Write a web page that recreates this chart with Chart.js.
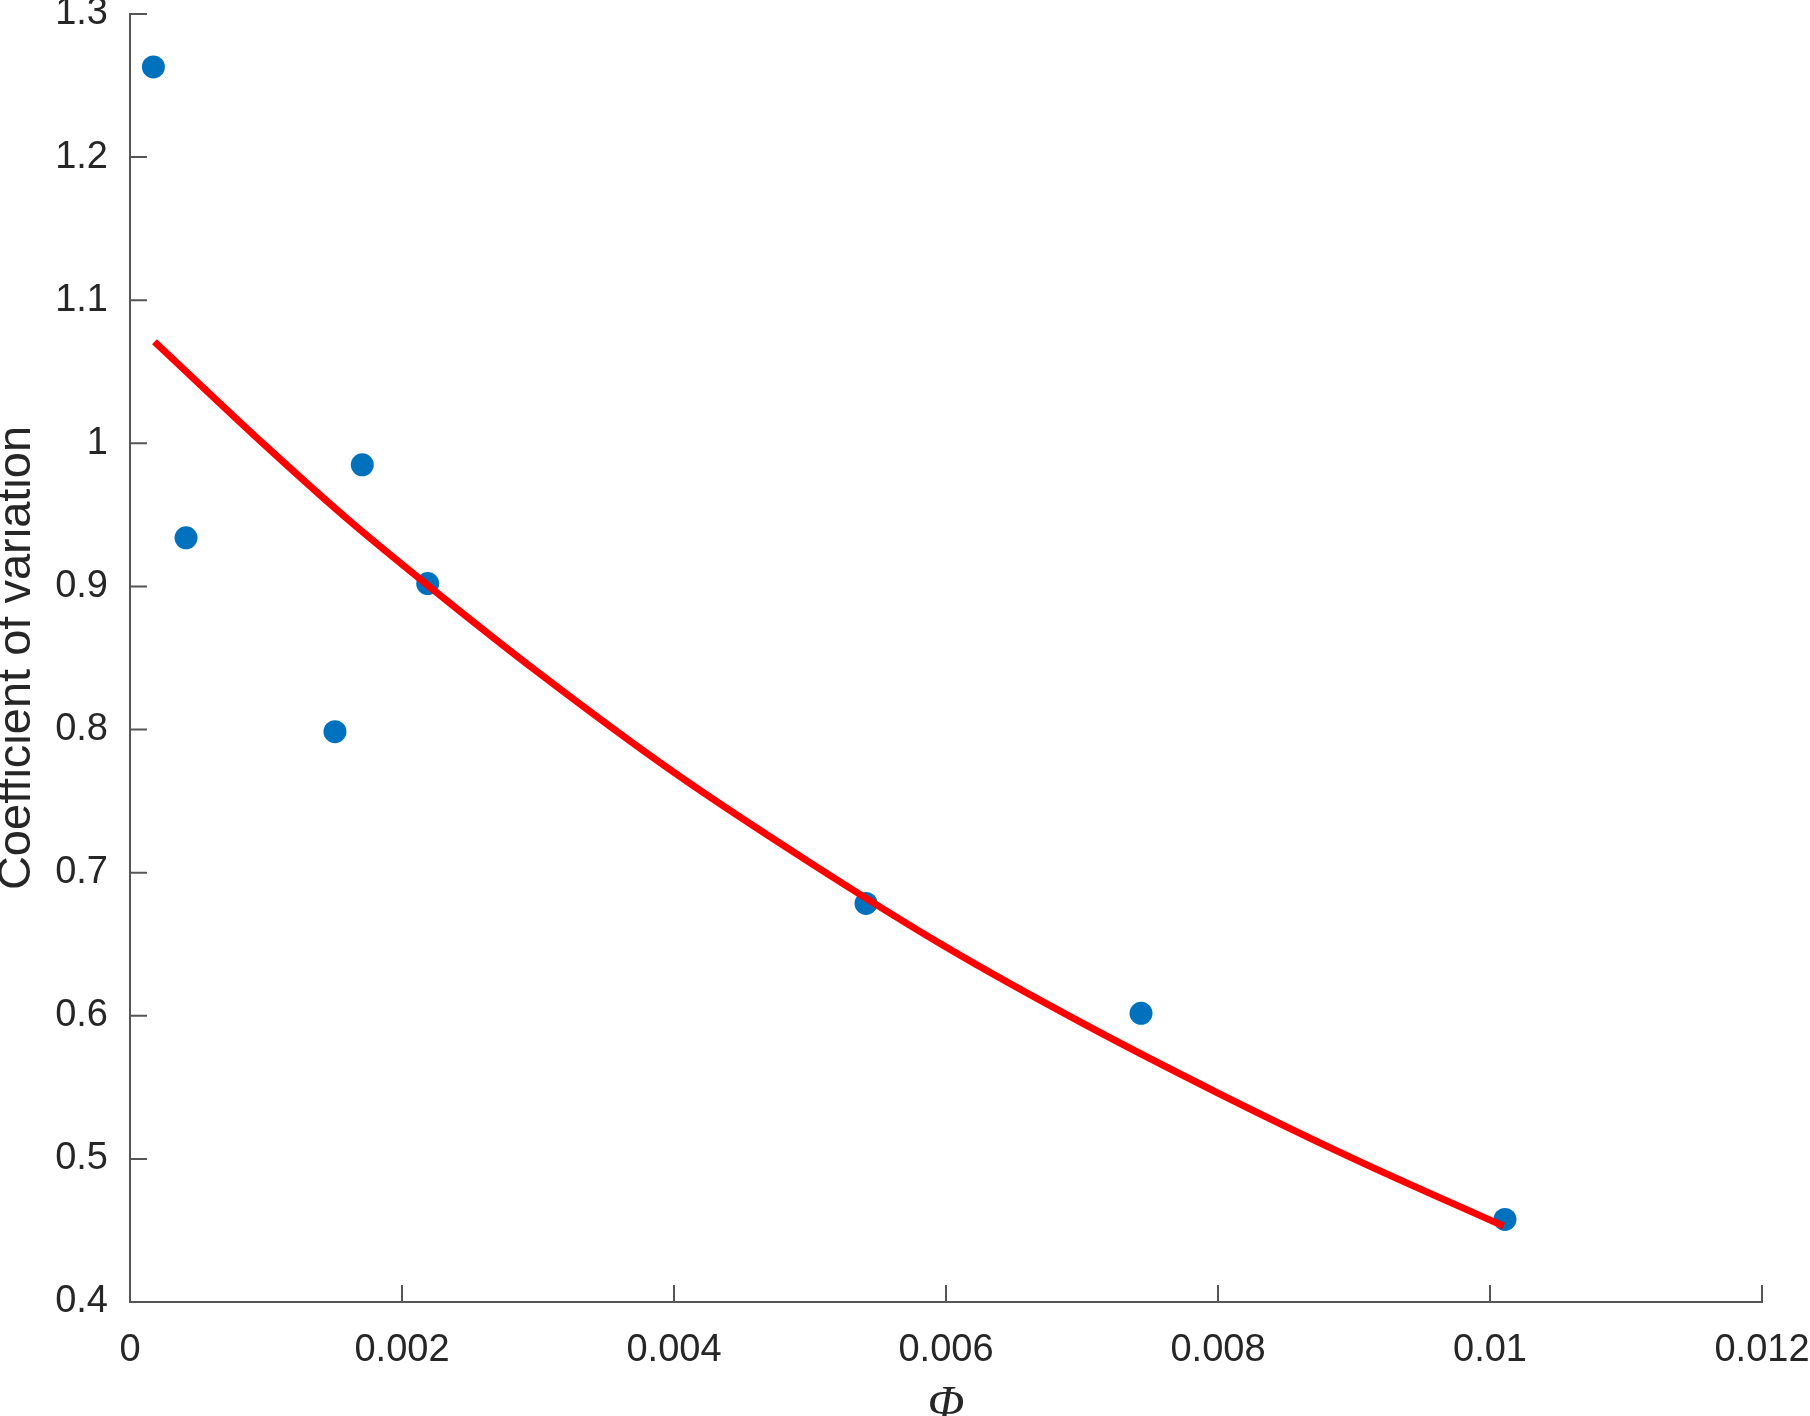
<!DOCTYPE html>
<html>
<head>
<meta charset="utf-8">
<script src="https://cdn.jsdelivr.net/npm/chart.js@4.4.0/dist/chart.umd.min.js"></script>
<style>
  html, body { margin: 0; padding: 0; background: #fff; }
</style>
</head>
<body>
<canvas id="cv" width="1810" height="1416"></canvas>
<script>
// measured points
var phiValues = [0.000172, 0.000412, 0.001507, 0.001708, 0.002189, 0.005412, 0.007434, 0.01011];
var cvValues  = [1.263, 0.934, 0.7985, 0.985, 0.902, 0.6785, 0.6017, 0.4577];

// fitted curve
var fitPhi = [0.00018, 0.001, 0.0016, 0.0022, 0.003, 0.004, 0.005, 0.006, 0.007, 0.008, 0.009, 0.0101];
var fitCv  = [1.071, 0.998, 0.947, 0.900, 0.840, 0.770, 0.707, 0.648, 0.595, 0.546, 0.500, 0.453];

var xTicks = [0, 0.002, 0.004, 0.006, 0.008, 0.01, 0.012];
var yTicks = [0.4, 0.5, 0.6, 0.7, 0.8, 0.9, 1, 1.1, 1.2, 1.3];

var axisColor = '#555555';
var textColor = '#262626';

function toXY(xs, ys) {
    var out = [];
    for (var i = 0; i < xs.length; i++) {
        out.push({x: xs[i], y: ys[i]});
    }
    return out;
}

function fmt(v) {
    return String(Number(v.toFixed(6)));
}

// chart.js would pad the area for the edge labels, we don't want that
function noPad(s) {
    s.paddingTop = 0;
    s.paddingBottom = 0;
    s.paddingLeft = 0;
    s.paddingRight = 0;
}

// matlab style ticks pointing into the plot
var innerTicks = {
    id: 'innerTicks',
    afterDraw: function (chart) {
        var ctx = chart.ctx;
        var xs = chart.scales.x, ys = chart.scales.y;
        var len = 17;
        ctx.save();
        ctx.strokeStyle = axisColor;
        ctx.lineWidth = 2;
        ctx.beginPath();
        xTicks.forEach(function (v) {
            var px = xs.getPixelForValue(v);
            ctx.moveTo(px, ys.bottom);
            ctx.lineTo(px, ys.bottom - len);
        });
        yTicks.forEach(function (v) {
            var py = ys.getPixelForValue(v);
            ctx.moveTo(xs.left, py);
            ctx.lineTo(xs.left + len, py);
        });
        ctx.stroke();
        ctx.restore();
    }
};

new Chart(document.getElementById('cv'), {
    type: 'scatter',
    data: {
        datasets: [
            {
                type: 'line',
                data: toXY(fitPhi, fitCv),
                borderColor: '#ff0000',
                borderWidth: 7,
                pointRadius: 0,
                fill: false,
                cubicInterpolationMode: 'monotone',
                order: 0
            },
            {
                data: toXY(phiValues, cvValues),
                backgroundColor: '#0072bd',
                borderWidth: 0,
                pointRadius: 11.5,
                order: 1
            }
        ]
    },
    options: {
        responsive: false,
        animation: false,
        layout: {padding: {left: 0, top: 14, right: 48, bottom: 0}},
        plugins: {legend: {display: false}, tooltip: {enabled: false}},
        scales: {
            x: {
                type: 'linear',
                min: 0,
                max: 0.012,
                afterBuildTicks: function (s) { s.ticks = xTicks.map(function (v) { return {value: v}; }); },
                afterFit: function (s) { s.height = 114; noPad(s); },
                grid: {display: false, drawTicks: false},
                border: {display: true, color: axisColor, width: 2},
                ticks: {
                    autoSkip: false,
                    maxRotation: 0,
                    padding: 26,
                    color: textColor,
                    font: {family: 'Liberation Sans', size: 38},
                    callback: function (v) { return fmt(v); }
                },
                title: {
                    display: true,
                    text: 'Φ',
                    color: textColor,
                    padding: 0,
                    font: {family: 'Liberation Serif', style: 'italic', size: 48, lineHeight: 0.4}
                }
            },
            y: {
                type: 'linear',
                min: 0.4,
                max: 1.3,
                afterBuildTicks: function (s) { s.ticks = yTicks.map(function (v) { return {value: v}; }); },
                afterFit: function (s) { s.width = 130; noPad(s); },
                grid: {display: false, drawTicks: false},
                border: {display: true, color: axisColor, width: 2},
                ticks: {
                    autoSkip: false,
                    padding: 22,
                    color: textColor,
                    font: {family: 'Liberation Sans', size: 38},
                    callback: function (v) { return fmt(v); }
                },
                title: {
                    display: true,
                    text: 'Coefficient of variation',
                    color: textColor,
                    padding: 0,
                    font: {family: 'Liberation Sans', size: 47, lineHeight: 0.72}
                }
            }
        }
    },
    plugins: [innerTicks]
});
</script>
</body>
</html>
